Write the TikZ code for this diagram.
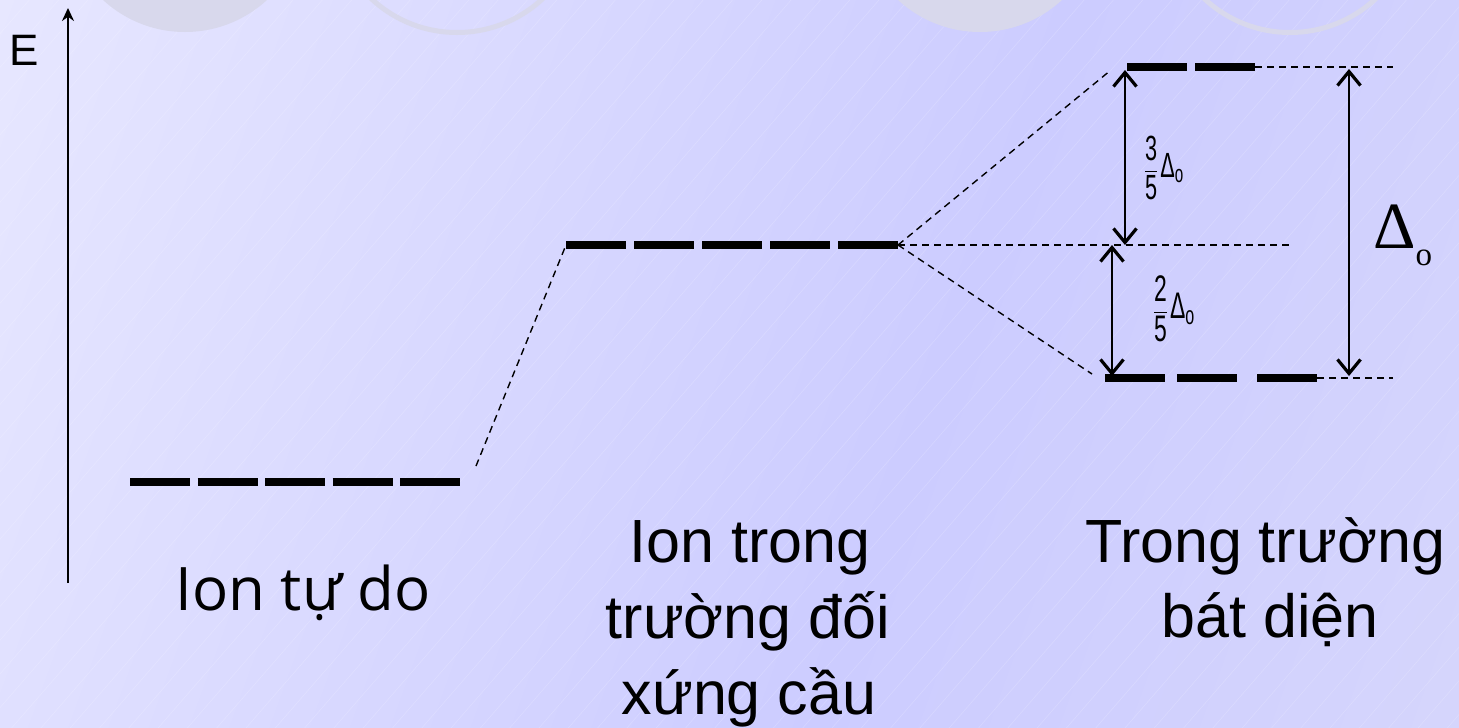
\documentclass[tikz,border=0pt]{standalone}
\usepackage{fontspec}
\usepackage{amsmath}
\setmainfont{Liberation Sans}
\newfontfamily\opensans{Open Sans}
\newfontfamily\serifdelta{Liberation Serif}
\usetikzlibrary{arrows.meta}
\definecolor{bgA}{HTML}{F3F3FF}
\definecolor{bgB}{HTML}{E2E2FF}
\definecolor{bgC}{HTML}{CCCCFF}
\definecolor{bgD}{HTML}{DCDCFA}
\definecolor{circ}{HTML}{D8D8EC}
\pgfdeclarehorizontalshading{bgshade}{100bp}{color(0bp)=(bgA); color(25bp)=(bgB); color(58bp)=(bgC); color(100bp)=(bgD)}
\newcommand\gapfrac[2]{\scalebox{0.62}[1]{$\displaystyle\frac{\text{#1}}{\text{#2}}\,\text{Δ}_{\text{o}}$}}
\tikzset{
  level/.style={line width=8.5pt, line cap=butt},
  guide/.style={line width=1.4pt, dash pattern=on 7pt off 5pt},
  gaparrow/.style={line width=1.8pt, {Straight Barb[length=14pt,width=23pt,line width=3.2pt]}-{Straight Barb[length=14pt,width=23pt,line width=3.2pt]}},
  bigtext/.style={font=\fontsize{61}{73}\selectfont, inner sep=0pt, anchor=base},
}
\begin{document}
\begin{tikzpicture}[x=1pt,y=-1pt]
\useasboundingbox (0,0) rectangle (1459,728);
\begin{scope}
  \clip (0,0) rectangle (1459,728);
  \shade[shading=bgshade, shading angle=-20] (0,0) rectangle (1459,728);
  \foreach \i in {0,29.3,...,2200} \draw[white, opacity=0.18, line width=0.6pt] ({\i-633},728) -- (\i,0);
  \fill[circ] (185,-89) circle (121);
  \fill[circ] (980,-89) circle (121);
  \draw[circ, line width=5pt] (457,-93) circle (125.5);
  \draw[circ, line width=5pt] (1290,-93) circle (125.5);
\end{scope}

% energy axis
\coordinate (axisB) at (68,583);
\coordinate (axisT) at (68,8);
\draw[line width=2pt, -{Stealth[length=13pt,width=12pt]}] (axisB) -- (axisT);
\node[font=\fontsize{44}{44}\selectfont, anchor=base, inner sep=0pt] (E) at (24,65) {E};

% levels
\coordinate (freeL) at (130,482); \coordinate (freeR) at (460,482);
\coordinate (sphL) at (566,245);  \coordinate (sphR) at (898,245);
\coordinate (egL) at (1127,67);   \coordinate (egR) at (1255,67);
\coordinate (tL) at (1105,378);   \coordinate (tR) at (1317,378);
\draw[level, dash pattern=on 60pt off 7.5pt] (freeL) -- (freeR);
\draw[level, dash pattern=on 60pt off 8pt] (sphL) -- (sphR);
\draw[level, dash pattern=on 60pt off 8pt] (egL) -- (egR);
\draw[level, dash pattern=on 60pt off 12pt on 60pt off 20pt] (tL) -- (tR);

% guide lines
\coordinate (freeJ) at (476,466);
\coordinate (egJ) at (1111,70);
\coordinate (midE) at (1290,245);
\coordinate (tJ) at (1092,374);
\coordinate (egE) at (1393,67);
\coordinate (tE) at (1393,378);
\draw[guide] (freeJ) -- (sphL);
\draw[guide] (sphR) -- (egJ);
\draw[guide] (sphR) -- (midE);
\draw[guide] (sphR) -- (tJ);
\draw[guide] (egR) -- (egE);
\draw[guide] (tR) -- (tE);

% gap arrows
\coordinate (a1T) at (1125,70);  \coordinate (a1B) at (1125,245);
\coordinate (a2T) at (1112,245); \coordinate (a2B) at (1112,376);
\coordinate (a3T) at (1349,69);  \coordinate (a3B) at (1349,376);
\draw[gaparrow] (a1T) -- (a1B);
\draw[gaparrow] (a2T) -- (a2B);
\draw[gaparrow] (a3T) -- (a3B);

\node[font=\fontsize{35}{35}\selectfont, inner sep=0pt] (f35) at (1164,168) {\gapfrac{3}{5}};
\node[font=\fontsize{37}{37}\selectfont, inner sep=0pt] (f25) at (1174,309) {\gapfrac{2}{5}};
\node[font=\serifdelta\fontsize{66}{66}\selectfont, anchor=base west, inner sep=0pt] (Do) at (1373,248) {Δ\raisebox{-17pt}{\fontsize{33}{33}\selectfont o}};

% captions
\node[bigtext, font=\opensans\fontsize{60}{72}\selectfont] (c1) at (303,610) {Ion tự do};
\node[bigtext] (c2a) at (750,562) {Ion trong};
\node[bigtext] (c2b) at (748,638) {trường đối};
\node[bigtext] (c2c) at (749,714) {xứng cầu};
\node[bigtext] (c3a) at (1265,562) {Trong trường};
\node[bigtext] (c3b) at (1270,637) {bát diện};
\end{tikzpicture}
\end{document}
